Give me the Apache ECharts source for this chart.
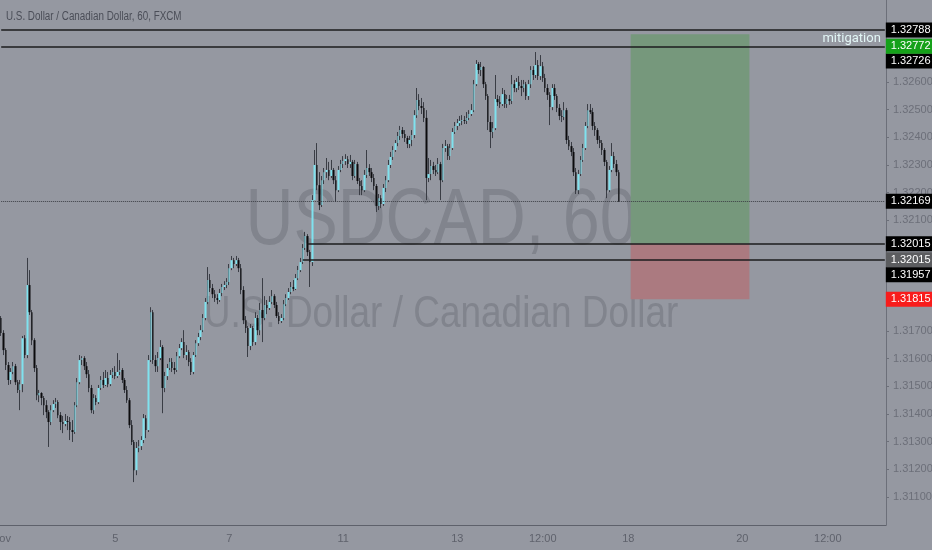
<!DOCTYPE html>
<html style="height: 100%">

<head>
  <meta charset="utf-8">
</head>

<body style="height: 100%; margin: 0; background: #9598a1">
  <div id="container" style="height: 100%"></div>
  <script type="text/javascript" src="https://cdn.jsdelivr.net/npm/echarts@6/dist/echarts.min.js"></script>
  <script type="text/javascript">
  var dom = document.getElementById("container");
  var myChart = echarts.init(dom);

  // USDCAD 1h bars, Nov 1 -> Nov 15 (each bar opens at the previous close)
  var firstOpen = 1.31747;
  var closes = [
    1.31693, 1.31631, 1.31577, 1.31523, 1.31552, 1.31573, 1.31515, 1.31487, 1.31508, 1.31674,
    1.31613, 1.31866, 1.31768, 1.31667, 1.31566, 1.31468, 1.31476, 1.31458, 1.31432, 1.31407,
    1.31371, 1.31414, 1.31436, 1.31443, 1.31396, 1.31371, 1.31364, 1.31375, 1.31371, 1.31342,
    1.31335, 1.31432, 1.31515, 1.31595, 1.31602, 1.31573, 1.31544, 1.31494, 1.31414, 1.31458,
    1.31443, 1.31494, 1.31523, 1.31505, 1.31530, 1.31508, 1.31541, 1.31552, 1.31537, 1.31552,
    1.31559, 1.31523, 1.31487, 1.31450, 1.31360, 1.31299, 1.31197, 1.31277, 1.31284, 1.31306,
    1.31385, 1.31342, 1.31595, 1.31768, 1.31595, 1.31573, 1.31602, 1.31642, 1.31494, 1.31537,
    1.31566, 1.31588, 1.31566, 1.31559, 1.31609, 1.31638, 1.31660, 1.31613, 1.31624, 1.31588,
    1.31552, 1.31613, 1.31656, 1.31678, 1.31703, 1.31747, 1.31805, 1.31884, 1.31855, 1.31833,
    1.31819, 1.31812, 1.31837, 1.31859, 1.31866, 1.31877, 1.31927, 1.31956, 1.31942, 1.31956,
    1.31927, 1.31848, 1.31739, 1.31711, 1.31646, 1.31711, 1.31660, 1.31747, 1.31703, 1.31776,
    1.31747, 1.31794, 1.31783, 1.31805, 1.31826, 1.31794, 1.31754, 1.31736, 1.31747, 1.31797,
    1.31819, 1.31841, 1.31859, 1.31852, 1.31891, 1.31920, 1.31949, 1.32000, 1.32043, 1.31985,
    1.31949, 1.32173, 1.32300, 1.32227, 1.32155, 1.32245, 1.32274, 1.32282, 1.32260, 1.32282,
    1.32245, 1.32209, 1.32282, 1.32303, 1.32314, 1.32321, 1.32303, 1.32311, 1.32260, 1.32303,
    1.32242, 1.32224, 1.32209, 1.32264, 1.32289, 1.32274, 1.32253, 1.32224, 1.32152, 1.32180,
    1.32159, 1.32217, 1.32245, 1.32300, 1.32329, 1.32354, 1.32379, 1.32405, 1.32426, 1.32412,
    1.32397, 1.32376, 1.32390, 1.32408, 1.32480, 1.32535, 1.32513, 1.32506, 1.32470, 1.32253,
    1.32267, 1.32296, 1.32282, 1.32274, 1.32303, 1.32245, 1.32361, 1.32368, 1.32332, 1.32361,
    1.32419, 1.32441, 1.32451, 1.32459, 1.32462, 1.32459, 1.32470, 1.32484, 1.32498, 1.32592,
    1.32665, 1.32643, 1.32654, 1.32592, 1.32549, 1.32455, 1.32419, 1.32433, 1.32538, 1.32527,
    1.32520, 1.32556, 1.32520, 1.32538, 1.32531, 1.32592, 1.32578, 1.32600, 1.32585, 1.32578,
    1.32592, 1.32549, 1.32592, 1.32643, 1.32625, 1.32661, 1.32621, 1.32657, 1.32614, 1.32578,
    1.32553, 1.32509, 1.32578, 1.32549, 1.32506, 1.32477, 1.32473, 1.32498, 1.32390, 1.32368,
    1.32347, 1.32274, 1.32209, 1.32267, 1.32318, 1.32361, 1.32441, 1.32498, 1.32491, 1.32441,
    1.32426, 1.32390, 1.32379, 1.32354, 1.32311, 1.32209, 1.32282, 1.32332, 1.32303, 1.32274,
    1.32169
  ];
  var highs = [
    1.31754, 1.31703, 1.31638, 1.31588, 1.31566, 1.31588, 1.31581, 1.31523, 1.31523, 1.31682,
    1.31685, 1.31964, 1.31920, 1.31776, 1.31674, 1.31577, 1.31487, 1.31479, 1.31465, 1.31450,
    1.31414, 1.31432, 1.31450, 1.31458, 1.31450, 1.31407, 1.31393, 1.31400, 1.31393, 1.31389,
    1.31378, 1.31443, 1.31530, 1.31613, 1.31609, 1.31609, 1.31588, 1.31559, 1.31505, 1.31472,
    1.31468, 1.31505, 1.31537, 1.31552, 1.31559, 1.31552, 1.31559, 1.31566, 1.31573, 1.31620,
    1.31595, 1.31566, 1.31530, 1.31501, 1.31458, 1.31378, 1.31306, 1.31299, 1.31306, 1.31320,
    1.31400, 1.31396, 1.31613, 1.31786, 1.31776, 1.31613, 1.31624, 1.31667, 1.31649, 1.31552,
    1.31581, 1.31602, 1.31602, 1.31588, 1.31624, 1.31653, 1.31674, 1.31703, 1.31649, 1.31631,
    1.31602, 1.31624, 1.31667, 1.31693, 1.31721, 1.31761, 1.31819, 1.31931, 1.31906, 1.31870,
    1.31848, 1.31833, 1.31852, 1.31870, 1.31880, 1.31891, 1.31942, 1.31971, 1.31964, 1.31971,
    1.31964, 1.31942, 1.31862, 1.31754, 1.31718, 1.31725, 1.31718, 1.31768, 1.31758, 1.31801,
    1.31891, 1.31826, 1.31812, 1.31826, 1.31848, 1.31833, 1.31805, 1.31768, 1.31761, 1.31812,
    1.31833, 1.31855, 1.31877, 1.31884, 1.31906, 1.31935, 1.31964, 1.32014, 1.32058, 1.32050,
    1.31993, 1.32191, 1.32354, 1.32379, 1.32274, 1.32260, 1.32289, 1.32325, 1.32311, 1.32318,
    1.32289, 1.32260, 1.32296, 1.32318, 1.32332, 1.32339, 1.32332, 1.32336, 1.32318, 1.32318,
    1.32311, 1.32253, 1.32245, 1.32282, 1.32354, 1.32303, 1.32289, 1.32267, 1.32231, 1.32195,
    1.32191, 1.32231, 1.32260, 1.32318, 1.32347, 1.32368, 1.32390, 1.32419, 1.32441, 1.32437,
    1.32426, 1.32405, 1.32405, 1.32426, 1.32498, 1.32578, 1.32556, 1.32542, 1.32527, 1.32498,
    1.32325, 1.32318, 1.32311, 1.32300, 1.32325, 1.32311, 1.32376, 1.32390, 1.32376, 1.32376,
    1.32433, 1.32455, 1.32466, 1.32477, 1.32480, 1.32477, 1.32491, 1.32498, 1.32520, 1.32607,
    1.32679, 1.32672, 1.32672, 1.32657, 1.32600, 1.32556, 1.32477, 1.32455, 1.32625, 1.32553,
    1.32549, 1.32578, 1.32571, 1.32553, 1.32553, 1.32625, 1.32607, 1.32614, 1.32621, 1.32607,
    1.32607, 1.32600, 1.32607, 1.32657, 1.32657, 1.32708, 1.32679, 1.32697, 1.32672, 1.32629,
    1.32592, 1.32563, 1.32592, 1.32592, 1.32556, 1.32520, 1.32498, 1.32527, 1.32506, 1.32405,
    1.32383, 1.32361, 1.32289, 1.32282, 1.32332, 1.32376, 1.32455, 1.32520, 1.32520, 1.32506,
    1.32455, 1.32433, 1.32405, 1.32390, 1.32361, 1.32318, 1.32296, 1.32379, 1.32347, 1.32318,
    1.32282
  ];
  var lows = [
    1.31682, 1.31613, 1.31559, 1.31505, 1.31508, 1.31544, 1.31505, 1.31476, 1.31414, 1.31479,
    1.31602, 1.31602, 1.31758, 1.31649, 1.31552, 1.31450, 1.31443, 1.31432, 1.31396, 1.31385,
    1.31281, 1.31360, 1.31407, 1.31422, 1.31385, 1.31342, 1.31331, 1.31356, 1.31342, 1.31306,
    1.31299, 1.31328, 1.31425, 1.31508, 1.31577, 1.31559, 1.31530, 1.31479, 1.31403, 1.31400,
    1.31432, 1.31436, 1.31487, 1.31494, 1.31501, 1.31497, 1.31501, 1.31530, 1.31526, 1.31530,
    1.31541, 1.31512, 1.31476, 1.31440, 1.31349, 1.31288, 1.31154, 1.31179, 1.31262, 1.31270,
    1.31295, 1.31313, 1.31335, 1.31588, 1.31581, 1.31552, 1.31552, 1.31595, 1.31403, 1.31479,
    1.31523, 1.31559, 1.31552, 1.31544, 1.31552, 1.31602, 1.31631, 1.31602, 1.31595, 1.31573,
    1.31541, 1.31544, 1.31606, 1.31646, 1.31667, 1.31696, 1.31739, 1.31797, 1.31841, 1.31819,
    1.31805, 1.31797, 1.31805, 1.31826, 1.31848, 1.31855, 1.31866, 1.31920, 1.31927, 1.31935,
    1.31913, 1.31833, 1.31725, 1.31693, 1.31606, 1.31631, 1.31646, 1.31649, 1.31685, 1.31685,
    1.31660, 1.31739, 1.31761, 1.31776, 1.31797, 1.31783, 1.31747, 1.31725, 1.31729, 1.31739,
    1.31790, 1.31812, 1.31833, 1.31844, 1.31848, 1.31884, 1.31913, 1.31942, 1.31993, 1.31971,
    1.31859, 1.31935, 1.32173, 1.32209, 1.32137, 1.32148, 1.32231, 1.32253, 1.32245, 1.32253,
    1.32231, 1.32166, 1.32202, 1.32274, 1.32289, 1.32300, 1.32289, 1.32289, 1.32245, 1.32253,
    1.32231, 1.32191, 1.32191, 1.32202, 1.32253, 1.32260, 1.32238, 1.32209, 1.32130, 1.32137,
    1.32144, 1.32152, 1.32202, 1.32238, 1.32289, 1.32318, 1.32347, 1.32368, 1.32390, 1.32397,
    1.32383, 1.32361, 1.32361, 1.32368, 1.32397, 1.32470, 1.32498, 1.32484, 1.32455, 1.32173,
    1.32238, 1.32245, 1.32267, 1.32260, 1.32267, 1.32173, 1.32238, 1.32347, 1.32318, 1.32318,
    1.32354, 1.32412, 1.32426, 1.32441, 1.32444, 1.32448, 1.32448, 1.32462, 1.32477, 1.32491,
    1.32585, 1.32629, 1.32621, 1.32578, 1.32535, 1.32426, 1.32361, 1.32397, 1.32426, 1.32513,
    1.32506, 1.32513, 1.32506, 1.32506, 1.32517, 1.32520, 1.32563, 1.32563, 1.32571, 1.32549,
    1.32563, 1.32535, 1.32535, 1.32578, 1.32607, 1.32614, 1.32607, 1.32607, 1.32600, 1.32563,
    1.32535, 1.32444, 1.32498, 1.32535, 1.32491, 1.32462, 1.32455, 1.32462, 1.32376, 1.32354,
    1.32332, 1.32260, 1.32195, 1.32195, 1.32260, 1.32311, 1.32354, 1.32433, 1.32484, 1.32426,
    1.32405, 1.32376, 1.32361, 1.32336, 1.32296, 1.32180, 1.32202, 1.32274, 1.32289, 1.32260,
    1.32166
  ];

  // time axis: one slot per hour, the pane runs on to Nov 21 midday
  var slotCount = 373;
  var tickIndex = [0, 48, 96, 144, 192, 228, 264, 312, 348];
  var tickText = ['Nov', '5', '7', '11', '13', '12:00', '18', '20', '12:00'];

  // price axis labels that are not hidden behind tags
  var priceTicks = [1.311, 1.312, 1.313, 1.314, 1.315, 1.316, 1.317, 1.318, 1.321, 1.322, 1.323, 1.324, 1.325, 1.326];

  // drawings
  var topLevel = 1.32788;
  var mitigationLevel = 1.32726;
  var lastPrice = 1.32169;
  var entryLevel = 1.32015;
  var lowLevel = 1.31957;
  var targetLevel = 1.32772;
  var stopLevel = 1.31815;
  var entryFrom = 129, lowFrom = 127;   // first bar of the two lower lines
  var boxFrom = 265, boxTo = 315;        // long position tool

  var FONT = "'Liberation Sans', Roboto, sans-serif";
  var BG = '#9598a1';

  var categories = [];
  for (var i = 0; i < slotCount; i++) categories.push('h' + i);
  var firstSlot = categories[0], lastSlot = categories[slotCount - 1];

  var candles = [], bodies = [];
  for (var i = 0; i < closes.length; i++) {
    var o = i === 0 ? firstOpen : closes[i - 1];
    var c = closes[i];
    candles.push([o, c, lows[i], highs[i]]);
    bodies.push([o, c, Math.min(o, c), Math.max(o, c)]);
  }

  function tag(text, bg, dy) {
    return {
      show: true,
      position: 'end',
      distance: 1,
      formatter: text,
      color: '#fff',
      backgroundColor: bg,
      padding: [2, 4, 1, 5],
      fontSize: 11,
      lineHeight: 12,
      fontFamily: FONT,
      offset: [0, dy || 0]
    };
  }
  // a horizontal segment from slot `from` to the right edge
  function level(from, value, lineStyle, label) {
    return [
      { coord: [from, value], lineStyle: lineStyle, label: label },
      { coord: [lastSlot, value] }
    ];
  }
  var blackLine = { color: '#1c1c1e', width: 1.6, type: 'solid' };
  var hidden = { color: 'rgba(0,0,0,0)', width: 0 };

  var option = {
    backgroundColor: BG,
    animation: false,
    graphic: [
      {
        type: 'text', x: 6, y: 17, silent: true, scaleX: 0.82,
        style: {
          text: 'U.S. Dollar / Canadian Dollar, 60, FXCM', fill: '#4b4e58',
          font: '12px ' + FONT, verticalAlign: 'middle'
        }
      },
      {
        type: 'text', x: 441, y: 222, z: -1, silent: true, scaleX: 0.83,
        style: {
          text: 'USDCAD, 60', fill: '#81848d', font: '80px ' + FONT,
          align: 'center', verticalAlign: 'middle'
        }
      },
      {
        type: 'text', x: 441, y: 315, z: -1, silent: true, scaleX: 0.84,
        style: {
          text: 'U.S. Dollar / Canadian Dollar', fill: '#81848d', font: '44px ' + FONT,
          align: 'center', verticalAlign: 'middle'
        }
      }
    ],
    grid: { left: 0, right: 46, top: 0, bottom: 25, containLabel: false, outerBoundsMode: 'none' },
    xAxis: {
      type: 'category',
      data: categories,
      boundaryGap: true,
      axisLine: { lineStyle: { color: '#5e616b', width: 1 } },
      axisTick: {
        interval: function (idx) { return tickIndex.indexOf(idx) >= 0; },
        length: 3,
        lineStyle: { color: '#5e616b' }
      },
      axisLabel: {
        interval: function (idx) { return tickIndex.indexOf(idx) >= 0; },
        formatter: function (v, idx) {
          var k = tickIndex.indexOf(idx);
          return k >= 0 ? tickText[k] : '';
        },
        color: '#5f626c',
        fontSize: 11,
        fontFamily: FONT,
        margin: 8
      },
      splitLine: { show: false }
    },
    yAxis: {
      type: 'value',
      position: 'right',
      scale: true,
      min: 1.30999,
      max: 1.32896,
      splitLine: { show: false },
      axisLine: { show: true, lineStyle: { color: '#6c6f79', width: 1 } },
      axisTick: { show: true, length: 3, customValues: priceTicks, lineStyle: { color: '#6c6f79' } },
      axisLabel: {
        customValues: priceTicks,
        formatter: function (v) { return v.toFixed(5); },
        color: '#6c6f79',
        fontSize: 11,
        fontFamily: FONT,
        margin: 7
      }
    },
    series: [
      {
        // the line that sits under the position box
        type: 'line',
        data: [],
        z: 1,
        markLine: {
          symbol: 'none',
          silent: true,
          animation: false,
          data: [
            level(firstSlot, mitigationLevel, blackLine, tag(mitigationLevel.toFixed(5), '#000', 14)),
            level(firstSlot, mitigationLevel, hidden, {
              show: true, position: 'insideEndTop', distance: [4, 2], formatter: 'mitigation',
              color: '#e2f6f6', fontSize: 13, fontFamily: "Roboto, sans-serif"
            })
          ]
        }
      },
      {
        // wicks
        type: 'candlestick',
        data: candles,
        z: 2,
        barWidth: 1,
        itemStyle: {
          color: '#3a3d45', color0: '#3a3d45',
          borderColor: '#3a3d45', borderColor0: '#3a3d45', borderWidth: 1
        }
      },
      {
        // candle bodies and the long position box
        type: 'candlestick',
        data: bodies,
        z: 3,
        barWidth: 2,
        itemStyle: {
          color: '#7fe2ee', color0: '#0b0b0d',
          borderColor: '#7fe2ee', borderColor0: '#0b0b0d', borderWidth: 0
        },
        markArea: {
          silent: true,
          data: [
            [
              { coord: [categories[boxFrom], targetLevel], itemStyle: { color: '#76987c' } },
              { coord: [categories[boxTo], entryLevel] }
            ],
            [
              { coord: [categories[boxFrom], entryLevel], itemStyle: { color: '#ab7a80' } },
              { coord: [categories[boxTo], stopLevel] }
            ]
          ]
        }
      },
      {
        // other horizontal lines and price tags
        type: 'line',
        data: [],
        z: 4,
        markLine: {
          symbol: 'none',
          silent: true,
          animation: false,
          data: [
            level(firstSlot, topLevel, blackLine, tag(topLevel.toFixed(5), '#000', 0)),
            level(categories[boxFrom], targetLevel, hidden, tag(targetLevel.toFixed(5), '#15a119', 12)),
            level(firstSlot, lastPrice, { color: '#3c3e45', width: 1, type: 'dotted' }, tag(lastPrice.toFixed(5), '#000', 0)),
            level(categories[entryFrom], entryLevel, blackLine, tag(entryLevel.toFixed(5), '#000', 0)),
            level(categories[boxFrom], entryLevel, hidden, tag(entryLevel.toFixed(5), '#5c5d60', 16)),
            level(categories[lowFrom], lowLevel, blackLine, tag(lowLevel.toFixed(5), '#000', 15)),
            level(categories[boxFrom], stopLevel, hidden, tag(stopLevel.toFixed(5), '#f81c1c', 0))
          ]
        }
      }
    ]
  };

  myChart.setOption(option);
  </script>
</body>

</html>
